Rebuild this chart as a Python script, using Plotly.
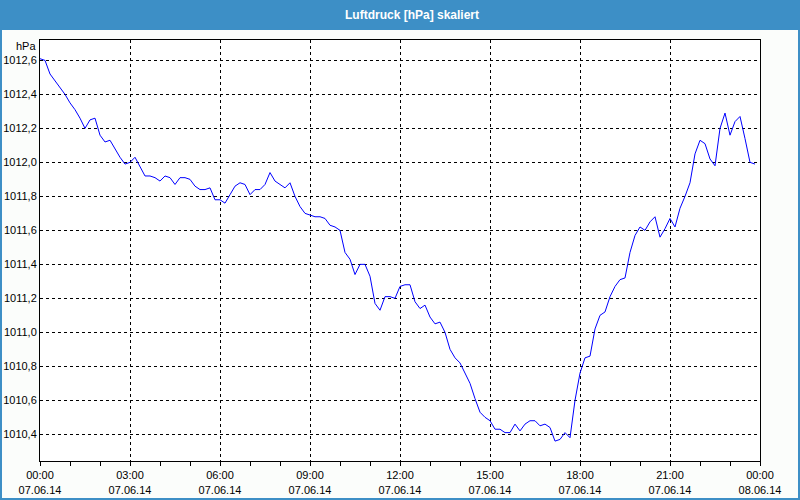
import plotly.graph_objects as go
import pandas as pd

# Air pressure, 10-minute readings on 07.06.14 (00:00 .. 23:50)
pressure = [
    1012.61, 1012.60, 1012.52, 1012.48, 1012.44, 1012.40, 1012.35, 1012.31, 1012.26, 1012.20,
    1012.25, 1012.26, 1012.16, 1012.12, 1012.13, 1012.08, 1012.03, 1011.99, 1012.00, 1012.03,
    1011.97, 1011.92, 1011.92, 1011.91, 1011.89, 1011.92, 1011.91, 1011.87, 1011.91, 1011.91,
    1011.90, 1011.86, 1011.84, 1011.84, 1011.85, 1011.78, 1011.78, 1011.76, 1011.81, 1011.86,
    1011.88, 1011.87, 1011.81, 1011.84, 1011.84, 1011.87, 1011.94, 1011.89, 1011.87, 1011.85,
    1011.88, 1011.80, 1011.74, 1011.70, 1011.69, 1011.68, 1011.68, 1011.67, 1011.63, 1011.62,
    1011.60, 1011.47, 1011.43, 1011.34, 1011.40, 1011.40, 1011.33, 1011.17, 1011.13, 1011.21,
    1011.21, 1011.20, 1011.27, 1011.28, 1011.28, 1011.18, 1011.14, 1011.16, 1011.09, 1011.05,
    1011.06, 1011.00, 1010.90, 1010.85, 1010.82, 1010.76, 1010.70, 1010.61, 1010.53, 1010.50,
    1010.48, 1010.43, 1010.43, 1010.41, 1010.41, 1010.46, 1010.42, 1010.46, 1010.48, 1010.48,
    1010.45, 1010.46, 1010.44, 1010.36, 1010.37, 1010.41, 1010.38, 1010.60, 1010.76, 1010.85,
    1010.86, 1011.02, 1011.10, 1011.12, 1011.21, 1011.27, 1011.31, 1011.32, 1011.47, 1011.57,
    1011.62, 1011.60, 1011.65, 1011.68, 1011.56, 1011.61, 1011.67, 1011.62, 1011.73, 1011.80,
    1011.88, 1012.05, 1012.13, 1012.11, 1012.02, 1011.98, 1012.20, 1012.29, 1012.16, 1012.24,
    1012.27, 1012.14, 1012.00, 1011.99,
]
times = pd.date_range("2014-06-07 00:00", periods=len(pressure), freq="10min")

title_text = "Luftdruck [hPa] skaliert"
unit_label = "hPa"
y_ticks = [1010.4, 1010.6, 1010.8, 1011.0, 1011.2, 1011.4, 1011.6, 1011.8, 1012.0, 1012.2, 1012.4, 1012.6]
x_tick_times = ["2014-06-07 00:00", "2014-06-07 03:00", "2014-06-07 06:00", "2014-06-07 09:00",
                "2014-06-07 12:00", "2014-06-07 15:00", "2014-06-07 18:00", "2014-06-07 21:00",
                "2014-06-08 00:00"]
x_tick_labels = ["00:00<br>07.06.14", "03:00<br>07.06.14", "06:00<br>07.06.14", "09:00<br>07.06.14",
                 "12:00<br>07.06.14", "15:00<br>07.06.14", "18:00<br>07.06.14", "21:00<br>07.06.14",
                 "00:00<br>08.06.14"]

W, H = 800, 500
ML, MR, MT, MB = 40, 40, 40, 39
PW, PH = W - ML - MR, H - MT - MB

def px(x):
    return (x - ML) / PW

def py(y):
    return 1 - (y - MT) / PH

BLUE = "#3d8fc6"
FONT = "Liberation Sans, Arial, sans-serif"

fig = go.Figure()
fig.add_trace(go.Scatter(x=times, y=pressure, mode="lines",
                         line=dict(color="#0000ff", width=1), hoverinfo="skip"))

fig.update_layout(
    width=W, height=H,
    margin=dict(l=ML, r=MR, t=MT, b=MB, autoexpand=False),
    paper_bgcolor="#fbfdfb", plot_bgcolor="#ffffff",
    showlegend=False,
    separators=",.",
    font=dict(family=FONT, size=11, color="#000000"),
    xaxis=dict(
        range=["2014-06-07 00:00", "2014-06-08 00:00"],
        tickmode="array", tickvals=x_tick_times, ticktext=x_tick_labels,
        ticks="outside", ticklen=4, tickcolor="#000000",
        minor=dict(dtick=3600000, tick0="2014-06-07 00:00", ticks="outside", ticklen=4,
                   tickcolor="#000000", showgrid=False),
        showgrid=True, gridcolor="#000000", griddash="3px,3px", gridwidth=1,
        showline=True, linecolor="#000000", linewidth=1, mirror=True,
        zeroline=False, tickfont=dict(size=11), automargin=False,
    ),
    yaxis=dict(
        range=[1010.243, 1012.72],
        tickvals=y_ticks, tickformat=".1f",
        ticks="", ticklen=0,
        showgrid=True, gridcolor="#000000", griddash="3px,3px", gridwidth=1,
        showline=True, linecolor="#000000", linewidth=1, mirror=True,
        zeroline=False, tickfont=dict(size=11), automargin=False,
    ),
    shapes=[
        dict(type="rect", xref="paper", yref="paper",
             x0=px(0), x1=px(W), y0=py(0), y1=py(30),
             fillcolor=BLUE, line=dict(width=0), layer="below"),
        dict(type="rect", xref="paper", yref="paper",
             x0=px(1), x1=px(W - 1), y0=py(1), y1=py(H - 1),
             fillcolor="rgba(0,0,0,0)", line=dict(color=BLUE, width=2)),
    ],
    annotations=[
        dict(text="<b>" + title_text + "</b>", xref="paper", yref="paper",
             x=px(412), y=py(15), xanchor="center", yanchor="middle",
             showarrow=False, font=dict(color="#ffffff", size=12, family=FONT)),
        dict(text=unit_label, xref="paper", yref="paper",
             x=px(38), y=py(46), xanchor="right", yanchor="middle",
             showarrow=False, font=dict(size=11, family=FONT)),
    ],
)

fig.write_html("out.html")
